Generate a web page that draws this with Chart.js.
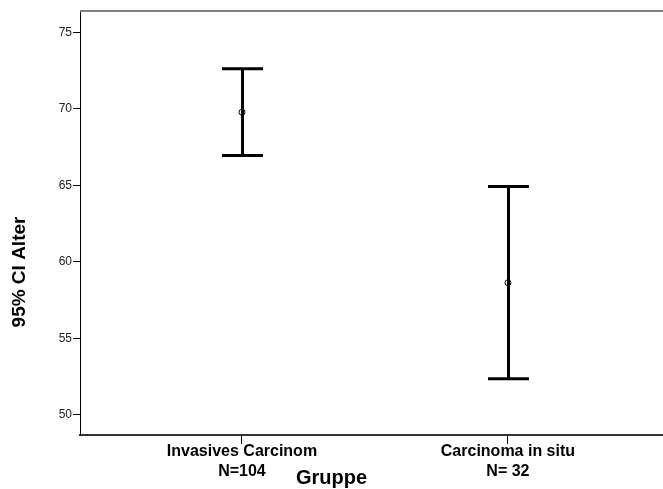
<!DOCTYPE html>
<html>
<head>
<meta charset="utf-8">
<script src="https://cdn.jsdelivr.net/npm/chart.js@4/dist/chart.umd.min.js"></script>
<style>
  html, body { margin: 0; padding: 0; background: #fff; }
  #wrap { width: 663px; height: 489px; }
</style>
</head>
<body>
<div id="wrap"><canvas id="ciChart" width="663" height="489"></canvas></div>
<script>
// Age by group: mean with 95% confidence interval
const groups = ['Invasives Carcinom', 'Carcinoma in situ'];
const groupN = ['N=104', 'N= 32'];
const groupPos = [1, 2];
const meanAge = [69.78, 58.64];
const lowerCI = [66.95, 52.36];
const upperCI = [72.62, 64.92];
const yTicks = [50, 55, 60, 65, 70, 75];

const FONT = 'Arial, "Liberation Sans", sans-serif';

// whiskers + caps drawn under the mean markers
const errorBars = {
  id: 'errorBars',
  beforeDatasetsDraw(chart) {
    const { ctx, scales: { x, y } } = chart;
    ctx.save();
    ctx.strokeStyle = '#000';
    ctx.lineWidth = 3;
    ctx.lineCap = 'butt';
    groupPos.forEach((g, i) => {
      const px = Math.round(x.getPixelForValue(g)) + 0.5;
      const top = y.getPixelForValue(upperCI[i]);
      const bot = y.getPixelForValue(lowerCI[i]);
      ctx.beginPath();
      ctx.moveTo(px, top);
      ctx.lineTo(px, bot);
      ctx.moveTo(px - 20.5, top);
      ctx.lineTo(px + 20.5, top);
      ctx.moveTo(px - 20.5, bot);
      ctx.lineTo(px + 20.5, bot);
      ctx.stroke();
    });
    ctx.restore();
  }
};

// frame line on top and the two axis titles
const frameAndTitles = {
  id: 'frameAndTitles',
  afterDraw(chart) {
    const { ctx, chartArea: a } = chart;
    ctx.save();
    ctx.strokeStyle = '#808080';
    ctx.lineWidth = 2;
    ctx.beginPath();
    ctx.moveTo(a.left, a.top);
    ctx.lineTo(chart.width, a.top);
    ctx.stroke();

    ctx.fillStyle = '#000';
    ctx.font = 'bold 20px ' + FONT;
    ctx.textAlign = 'center';
    ctx.textBaseline = 'middle';
    ctx.fillText('Gruppe', chart.width / 2, 478);

    ctx.translate(20, 272);
    ctx.rotate(-Math.PI / 2);
    ctx.font = 'bold 19px ' + FONT;
    ctx.fillText('95% CI Alter', 0, 0);
    ctx.restore();
  }
};

new Chart(document.getElementById('ciChart').getContext('2d'), {
  type: 'scatter',
  data: {
    datasets: [{
      label: 'Mittelwert',
      data: groupPos.map((g, i) => ({ x: g, y: meanAge[i] })),
      pointStyle: 'circle',
      pointRadius: 3,
      pointBorderWidth: 1,
      pointBorderColor: '#000',
      pointBackgroundColor: 'rgba(0,0,0,0)',
      pointHoverRadius: 3
    }]
  },
  options: {
    responsive: false,
    animation: false,
    layout: { autoPadding: false, padding: { top: 11, left: 0, right: 0, bottom: 0 } },
    plugins: { legend: { display: false }, tooltip: { enabled: false } },
    scales: {
      x: {
        type: 'linear',
        min: 0.391,
        max: 2.583,
        afterBuildTicks: s => { s.ticks = groupPos.map(v => ({ value: v })); },
        afterFit: s => { s.height = 54; s.paddingLeft = 0; s.paddingRight = 0; },
        ticks: {
          callback: (v) => {
            const i = groupPos.indexOf(v);
            return i < 0 ? '' : [groups[i], groupN[i]];
          },
          font: { family: FONT, size: 16, weight: 'bold', lineHeight: 1.25 },
          color: '#000',
          padding: -2,
          maxRotation: 0,
          autoSkip: false
        },
        grid: { drawOnChartArea: false, drawTicks: true, tickLength: 9, color: '#000', lineWidth: 1 },
        border: { display: true, color: '#333', width: 2 }
      },
      y: {
        min: 48.69,
        max: 76.39,
        afterBuildTicks: s => { s.ticks = yTicks.map(v => ({ value: v })); },
        afterFit: s => { s.width = 80; },
        ticks: {
          font: { family: FONT, size: 12 },
          color: '#222',
          padding: 1
        },
        grid: { drawOnChartArea: false, drawTicks: true, tickLength: 7, color: '#000', lineWidth: 1 },
        border: { display: true, color: '#000', width: 1 }
      }
    }
  },
  plugins: [errorBars, frameAndTitles]
});
</script>
</body>
</html>
